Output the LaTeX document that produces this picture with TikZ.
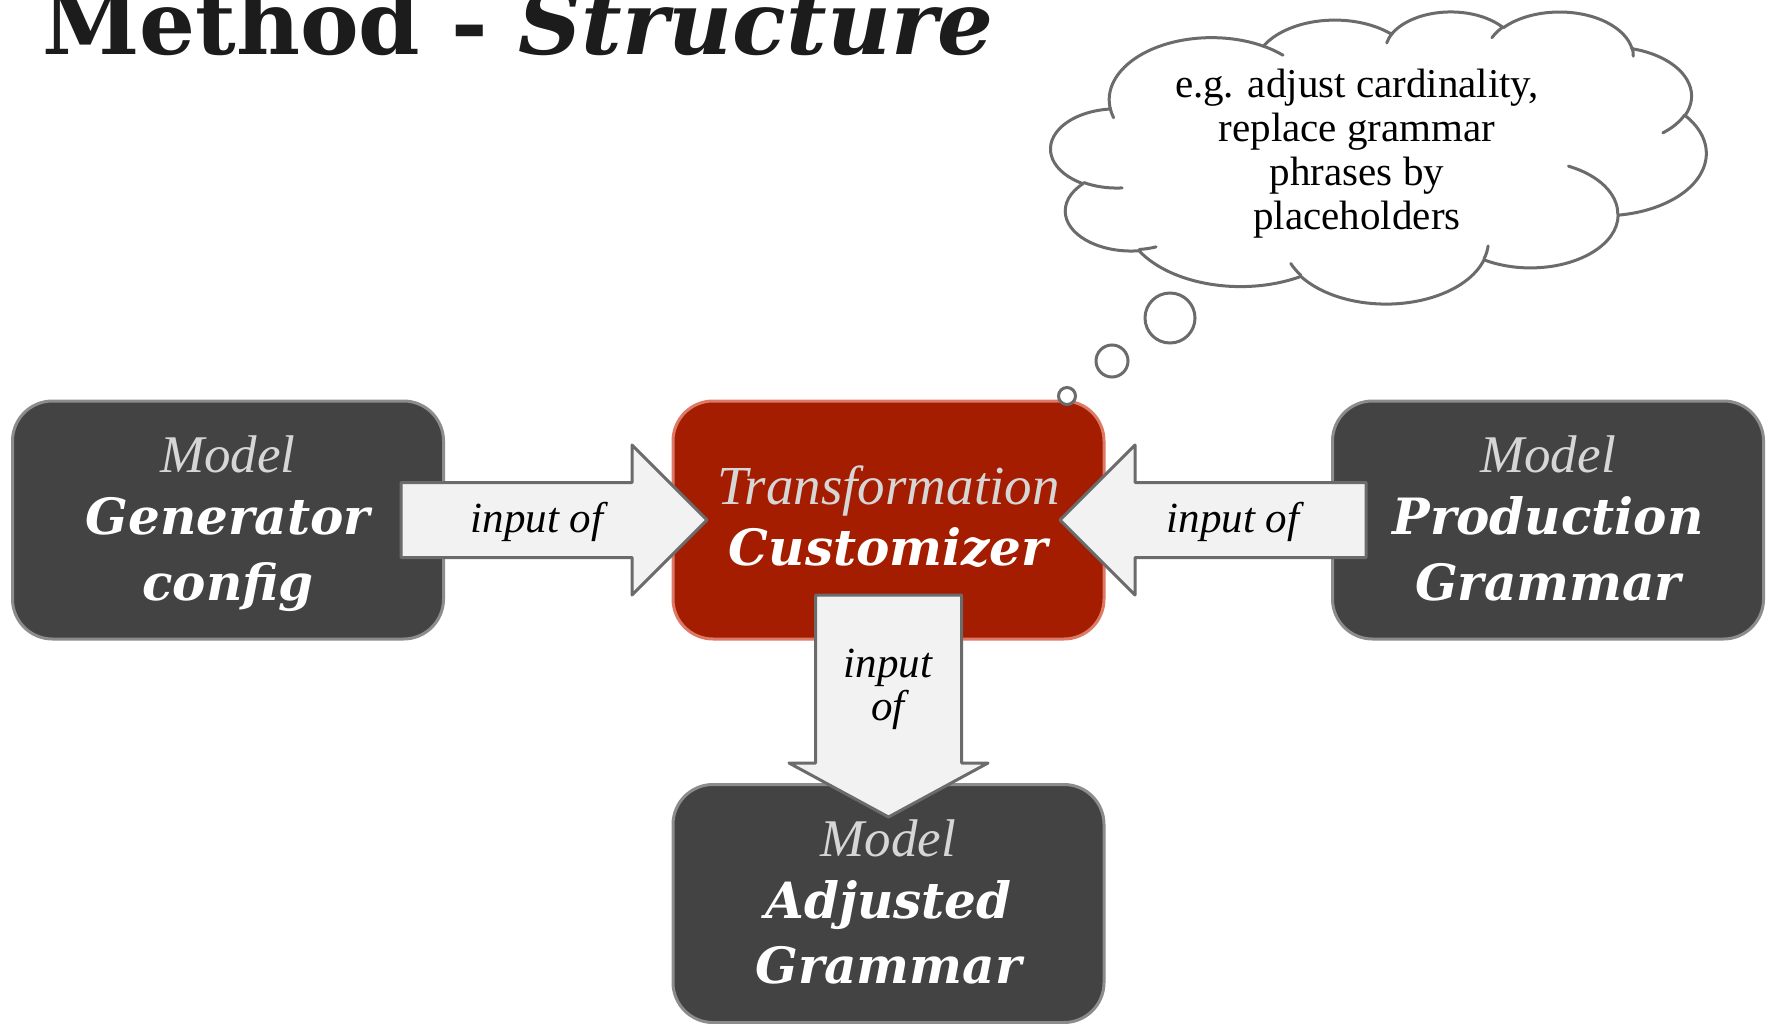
\documentclass[tikz,border=0pt]{standalone}
\usepackage{fontspec}
\setmainfont{Liberation Serif}
\newfontfamily\heavyserif{DejaVu Serif}
\usetikzlibrary{calc}

\definecolor{titleink}{HTML}{1C1C1C}
\definecolor{modelfill}{HTML}{434343}
\definecolor{modeledge}{HTML}{8C8C8C}
\definecolor{xformfill}{HTML}{A51D00}
\definecolor{xformedge}{HTML}{DD7A66}
\definecolor{arrowfill}{HTML}{F2F2F2}
\definecolor{arrowedge}{HTML}{6B6B6B}
\definecolor{kindgray}{HTML}{D6D6D6}

% elliptical arc: radii #1,#2, start angle #3 and sweep #4 given as
% geometric (not parametric) angles in degrees
\newcommand\cloudarcto[4]{%
  \pgfmathsetmacro\cloudstart{atan2((#1)*sin(#3),(#2)*cos(#3))}%
  \pgfmathsetmacro\cloudstop{atan2((#1)*sin((#3)+(#4)),(#2)*cos((#3)+(#4)))}%
  \pgfmathsetmacro\cloudstop{\cloudstart+mod(\cloudstop-\cloudstart+720,360)}%
  \pgfpatharcaxes{\cloudstart}{\cloudstop}{\pgfpointxy{#1}{0}}{\pgfpointxy{0}{#2}}}
\newcommand\cloudstub[6]{%
  \pgfpathmoveto{\pgfpointxy{#1}{#2}}\cloudarcto{#3}{#4}{#5}{#6}}

\tikzset{
  modelbox/.style={draw=modeledge, fill=modelfill, line width=3pt,
    rounded corners=40pt, minimum width=431pt, minimum height=238pt,
    inner sep=0pt, outer sep=0pt},
  xformbox/.style={modelbox, draw=xformedge, fill=xformfill},
  kindtext/.style={anchor=base, inner sep=0pt, text=kindgray,
    font=\fontsize{53}{53}\selectfont\itshape},
  nametext/.style={anchor=base, inner sep=0pt, text=white,
    font=\heavyserif\fontsize{50}{50}\selectfont\bfseries\itshape},
  arrowtext/.style={anchor=base, inner sep=0pt, text=black,
    font=\fontsize{43}{43}\selectfont\itshape},
  blockarrow/.style={draw=arrowedge, fill=arrowfill, line width=3pt,
    line join=round},
  cloudtext/.style={anchor=base, inner sep=0pt, text=black,
    font=\fontsize{41}{41}\selectfont},
  bubble/.style={draw=arrowedge, fill=white, line width=3pt},
}

\begin{document}
\begin{tikzpicture}[x=1pt, y=-1pt]
\fill[white] (0,0) rectangle (1771,1024);

% heading
\node[anchor=base west, inner sep=0pt, text=titleink,
  font=\heavyserif\fontsize{88}{88}\selectfont\bfseries]
  (title) at (42,55) {Method - \textit{Structure}};

% model and transformation boxes
\node[modelbox] (gen)  at (228,520)   {};
\node[xformbox] (cust) at (888.5,520) {};
\node[modelbox] (prod) at (1548,520)  {};
\node[modelbox] (adj)  at (888.5,903.5) {};

% block arrows between the boxes
\draw[blockarrow]
  ($(gen.east)+(-42.5,-37.5)$) -- ($(cust.west)+(-41,-37.5)$)
  -- ($(cust.west)+(-41,-75)$) -- ($(cust.west)+(34,0)$)
  -- ($(cust.west)+(-41,75)$) -- ($(cust.west)+(-41,37.5)$)
  -- ($(gen.east)+(-42.5,37.5)$) -- cycle;
\draw[blockarrow]
  ($(prod.west)+(33.5,-37.5)$) -- ($(cust.east)+(31,-37.5)$)
  -- ($(cust.east)+(31,-75)$) -- ($(cust.east)+(-44,0)$)
  -- ($(cust.east)+(31,75)$) -- ($(cust.east)+(31,37.5)$)
  -- ($(prod.west)+(33.5,37.5)$) -- cycle;
\draw[blockarrow]
  ($(cust.south)+(-73,-44)$) -- ($(cust.south)+(73,-44)$)
  -- ($(adj.north)+(73,-21.5)$) -- ($(adj.north)+(99.5,-21.5)$)
  -- ($(adj.north)+(0,32.5)$) -- ($(adj.north)+(-99.5,-21.5)$)
  -- ($(adj.north)+(-73,-21.5)$) -- cycle;

% box labels
\node[kindtext] (genkind)  at ($(gen.north)+(0,71.5)$)  {Model};
\node[nametext] (genname1) at ($(gen.north)+(0,133.5)$) {Generator};
\node[nametext] (genname2) at ($(gen.north)+(0,199)$)   {config};

\node[kindtext, font=\fontsize{55}{55}\selectfont\itshape]
  (custkind) at ($(cust.north)+(0,103.5)$) {Transformation};
\node[nametext] (custname) at ($(cust.north)+(0,164.5)$) {Customizer};

\node[kindtext] (prodkind)  at ($(prod.north)+(0,71.5)$)  {Model};
\node[nametext] (prodname1) at ($(prod.north)+(0,133.5)$) {Production};
\node[nametext] (prodname2) at ($(prod.north)+(0,199)$)   {Grammar};

\node[kindtext] (adjkind)  at ($(adj.north)+(0,71.5)$)  {Model};
\node[nametext] (adjname1) at ($(adj.north)+(0,133.5)$) {Adjusted};
\node[nametext] (adjname2) at ($(adj.north)+(0,199)$)   {Grammar};

% arrow labels
\node[arrowtext] (leftlabel)  at (537,532)  {input of};
\node[arrowtext] (rightlabel) at (1233,532) {input of};
\node[arrowtext] (downlabel1) at (888,677)  {input};
\node[arrowtext] (downlabel2) at (888,720)  {of};

% thought cloud (outline, then the inner fold strokes)
\begin{scope}[shift={(1051,11)}, x=0.15162pt, y=-0.067593pt]
  \pgfsetlinewidth{3pt}
  \pgfsetroundjoin
  \pgfsetroundcap
  \pgfsetstrokecolor{arrowedge}
  \pgfsetfillcolor{white}
  \pgfpathmoveto{\pgfpointxy{390}{1437}}
  \cloudarcto{675.3}{919.0}{-190.4875}{123.7805}
  \cloudarcto{533.3}{726.7}{-144.1024}{89.9452}
  \cloudarcto{436.5}{594.5}{-145.8079}{99.7230}
  \cloudarcto{485.7}{659.5}{-130.9861}{117.2417}
  \cloudarcto{533.3}{727.3}{-78.7089}{109.0269}
  \cloudarcto{677.5}{922.0}{-46.2673}{130.2690}
  \cloudarcto{578.5}{786.7}{0.6250}{114.0333}
  \cloudarcto{675.2}{921.5}{22.4516}{115.1726}
  \cloudarcto{772.0}{1054.3}{66.2426}{75.7110}
  \cloudarcto{436.0}{591.8}{-274.9421}{146.7356}
  \cloudarcto{434.5}{594.5}{-246.8285}{152.5189}
  \pgfpathclose
  \pgfusepath{fill,stroke}
  \cloudstub{469.3}{2617.7}{434.5}{594.5}{86.7420}{26.4295}
  \cloudstub{692.8}{3489.9}{436.0}{591.8}{73.6105}{11.4475}
  \cloudstub{1647.8}{3909.0}{675.2}{921.5}{137.6242}{14.0811}
  \cloudstub{2882.7}{3475.1}{675.2}{921.5}{6.4533}{15.9984}
  \cloudstub{3412.9}{2295.4}{578.5}{786.7}{-70.2924}{70.9174}
  \cloudstub{4179.8}{1535.4}{533.3}{727.3}{30.3180}{27.7515}
  \cloudstub{3832.4}{542.6}{485.7}{659.5}{-13.7443}{14.8589}
  \cloudstub{2907.8}{395.2}{485.7}{659.5}{-149.1815}{18.1954}
  \cloudstub{2214.1}{472.0}{436.5}{594.5}{-163.4943}{17.6864}
  \cloudstub{1400.0}{519.2}{675.3}{919.0}{-66.7070}{12.3194}
  \cloudstub{412.7}{1578.9}{675.3}{919.0}{157.6544}{11.8582}
  \pgfusepath{stroke}
\end{scope}

% bubbles leading from the cloud down to the customizer
\draw[bubble] (1170,318) circle[radius=25];
\draw[bubble] (1112,361) circle[radius=16];
\draw[bubble] (1067,396) circle[radius=8.5];

% cloud text
\node[cloudtext] (note1) at (1357,98)  {e.g. adjust cardinality,};
\node[cloudtext] (note2) at (1357,142) {replace grammar};
\node[cloudtext] (note3) at (1357,186) {phrases by};
\node[cloudtext] (note4) at (1357,230) {placeholders};

\pgfresetboundingbox
\path[use as bounding box] (0,0) rectangle (1771,1024);
\end{tikzpicture}
\end{document}
